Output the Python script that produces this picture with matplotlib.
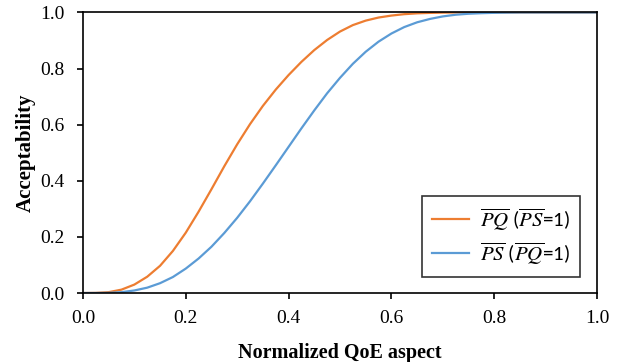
import numpy as np
import matplotlib.pyplot as plt

# Normalized QoE aspect (x) and acceptability
x_vals = [0.000, 0.025, 0.050, 0.075, 0.100, 0.125, 0.150, 0.175, 0.200, 0.225,
          0.250, 0.275, 0.300, 0.325, 0.350, 0.375, 0.400, 0.425, 0.450, 0.475,
          0.500, 0.525, 0.550, 0.575, 0.600, 0.625, 0.650, 0.675, 0.700, 0.725,
          0.750, 0.775, 0.800, 0.825, 0.850, 0.875, 0.900, 0.925, 0.950, 0.975,
          1.000]

pq_vals = [0.000, 0.0005, 0.003, 0.012, 0.030, 0.058, 0.097, 0.150, 0.215, 0.290,
           0.370, 0.452, 0.530, 0.602, 0.667, 0.725, 0.777, 0.824, 0.866, 0.902,
           0.932, 0.955, 0.971, 0.982, 0.989, 0.994, 0.997, 0.9985, 0.9995, 1.000,
           1.000, 1.000, 1.000, 1.000, 1.000, 1.000, 1.000, 1.000, 1.000, 1.000,
           1.000]

ps_vals = [0.000, 0.000, 0.0005, 0.003, 0.009, 0.019, 0.035, 0.057, 0.087, 0.123,
           0.165, 0.214, 0.268, 0.327, 0.390, 0.455, 0.521, 0.587, 0.651, 0.712,
           0.767, 0.817, 0.860, 0.896, 0.925, 0.948, 0.965, 0.977, 0.986, 0.992,
           0.9955, 0.9975, 0.9988, 0.9995, 1.000, 1.000, 1.000, 1.000, 1.000, 1.000,
           1.000]

labels = [r'$\overline{PQ}$ ($\overline{PS}$=1)', r'$\overline{PS}$ ($\overline{PQ}$=1)']

plt.rcParams['font.family'] = 'Liberation Serif'
plt.rcParams['mathtext.fontset'] = 'stix'

fig = plt.figure(figsize=(6.19, 3.62), dpi=100)
ax = fig.add_axes([0.134, 0.1906, 0.8305, 0.7749])

ax.plot(x_vals, pq_vals, color='#ED7D31', linewidth=1.6, label=labels[0])
ax.plot(x_vals, ps_vals, color='#5B9BD5', linewidth=1.6, label=labels[1])

ticks = np.arange(0, 1.01, 0.2)
ax.set_xlim(0, 1)
ax.set_ylim(0, 1)
ax.set_xticks(ticks)
ax.set_yticks(ticks)
ax.set_xticklabels([f"{v:.1f}" for v in ticks])
ax.set_yticklabels([f"{v:.1f}" for v in ticks])
ax.tick_params(direction='out', length=4, width=1.2, labelsize=14, color='black')
ax.tick_params(axis='x', pad=8.5)
ax.tick_params(axis='y', pad=9.5)
for s in ax.spines.values():
    s.set_linewidth(1.2)
    s.set_color('black')

ax.set_xlabel("Normalized QoE aspect", fontsize=14.5, fontweight='bold', labelpad=11.5)
ax.set_ylabel("Acceptability", fontsize=15, fontweight='bold', labelpad=3)

leg = ax.legend(loc='lower right', bbox_to_anchor=(0.967, 0.057), borderaxespad=0,
                fontsize=15, frameon=True, fancybox=False, edgecolor='black',
                handlelength=1.8, handletextpad=0.5, borderpad=0.5, labelspacing=0.35)
leg.get_frame().set_linewidth(1.2)
for t in leg.get_texts():
    t.set_fontfamily(['Carlito', 'Liberation Sans', 'DejaVu Sans'])

fig.savefig("out.png", dpi=100)
